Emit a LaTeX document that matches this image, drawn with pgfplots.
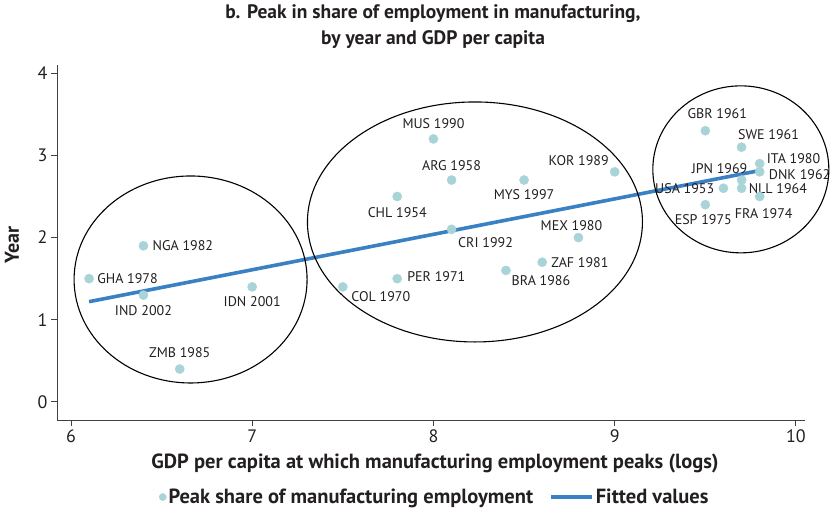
\documentclass[border=0pt]{standalone}
\usepackage{pgfplots}
\pgfplotsset{compat=1.18}
\usepackage{fontspec}
\setmainfont{PT Sans}
\definecolor{dotc}{RGB}{168,212,216}
\definecolor{fitc}{RGB}{58,128,196}
\definecolor{txt}{RGB}{35,31,32}
\newcommand{\lab}{\fontsize{14}{16}\selectfont}
\begin{document}
\begin{tikzpicture}[x=1pt,y=1pt]
\useasboundingbox (-57,-94) rectangle (776,420);
\begin{axis}[
  at={(0,0)}, anchor=south west,
  scale only axis, width=748pt, height=355pt,
  xmin=5.923, xmax=10.05, ymin=-0.22, ymax=4.1,
  axis lines=left, axis line style={-, draw=txt!85, line width=0.9pt},
  xtick={6,7,8,9,10}, ytick={0,1,2,3,4},
  tick align=outside, major tick length=6pt,
  tick style={draw=txt!85, line width=0.9pt},
  /pgf/number format/assume math mode=true,
  tick label style={font=\fontsize{18}{20}\selectfont, text=txt},
  clip=false,
  legend columns=2,
  legend style={draw=none, fill=none, at={(0.505,-0.217)}, anchor=center,
    font=\bfseries\fontsize{20.5}{22}\selectfont, text=txt,
    /tikz/every even column/.append style={column sep=14pt}},
  legend cell align=left,
]
\addplot[only marks, mark=*, mark size=4.6pt, color=dotc,
  legend image code/.code={\fill[dotc] (0.15cm,0cm) circle (3.6pt);}] table {
x y
6.1 1.5
6.4 1.9
6.4 1.3
7.0 1.4
6.6 0.4
8.0 3.2
8.1 2.7
7.8 2.5
8.5 2.7
9.0 2.8
8.1 2.1
8.8 2.0
8.6 1.7
8.4 1.6
7.8 1.5
7.5 1.4
9.5 3.3
9.7 3.1
9.8 2.9
9.8 2.8
9.7 2.7
9.6 2.6
9.7 2.6
9.5 2.4
9.8 2.5
};
\addlegendentry{Peak share of manufacturing employment}
\addplot[fitc, line width=3.6pt,
  legend image code/.code={\draw[fitc, line width=3.6pt] (0cm,0cm) -- (41pt,0cm);}] coordinates {(6.1,1.22) (9.81,2.82)};
\addlegendentry{Fitted values}

\draw[black, line width=1.1pt] (axis cs:6.66,1.49) ellipse [x radius=116.5pt, y radius=103.5pt];
\draw[black, line width=1.1pt] (axis cs:8.229,2.19) ellipse [x radius=167.5pt, y radius=120pt];
\draw[black, line width=1.1pt] (axis cs:9.696,2.83) ellipse [x radius=88pt, y radius=83.5pt];

\begin{scope}[every node/.style={font=\lab, text=txt, inner sep=0pt}]
\node[anchor=west] at ([xshift=8pt]axis cs:6.1,1.5) {GHA 1978};
\node[anchor=west] at ([xshift=9pt]axis cs:6.4,1.9) {NGA 1982};
\node[anchor=center] at ([yshift=-16pt]axis cs:6.4,1.3) {IND 2002};
\node[anchor=center] at ([yshift=-15pt]axis cs:7.0,1.4) {IDN 2001};
\node[anchor=center] at ([yshift=16pt]axis cs:6.6,0.4) {ZMB 1985};
\node[anchor=center] at ([yshift=15pt]axis cs:8.0,3.2) {MUS 1990};
\node[anchor=center] at ([yshift=14pt]axis cs:8.1,2.7) {ARG 1958};
\node[anchor=center] at ([yshift=-16pt]axis cs:7.8,2.5) {CHL 1954};
\node[anchor=center] at ([yshift=-15pt]axis cs:8.5,2.7) {MYS 1997};
\node[anchor=center] at ([xshift=-36pt,yshift=11pt]axis cs:9.0,2.8) {KOR 1989};
\node[anchor=center] at ([xshift=34pt,yshift=-13pt]axis cs:8.1,2.1) {CRI 1992};
\node[anchor=center] at ([xshift=-7pt,yshift=12pt]axis cs:8.8,2.0) {MEX 1980};
\node[anchor=west] at ([xshift=9pt]axis cs:8.6,1.7) {ZAF 1981};
\node[anchor=center] at ([xshift=35pt,yshift=-10pt]axis cs:8.4,1.6) {BRA 1986};
\node[anchor=west] at ([xshift=10pt,yshift=2pt]axis cs:7.8,1.5) {PER 1971};
\node[anchor=center] at ([xshift=38pt,yshift=-10pt]axis cs:7.5,1.4) {COL 1970};
\node[anchor=center] at ([xshift=12pt,yshift=17pt]axis cs:9.5,3.3) {GBR 1961};
\node[anchor=center] at ([xshift=27pt,yshift=13pt]axis cs:9.7,3.1) {SWE 1961};
\node[anchor=west] at ([xshift=7pt,yshift=5pt]axis cs:9.8,2.9) {ITA 1980};
\node[anchor=west] at ([xshift=9pt,yshift=-3pt]axis cs:9.8,2.8) {DNK 1962};
\node[anchor=center] at ([xshift=-22pt,yshift=11pt]axis cs:9.7,2.7) {JPN 1969};
\node[anchor=east] at ([xshift=-9pt]axis cs:9.6,2.6) {USA 1953};
\node[anchor=west] at ([xshift=7pt]axis cs:9.7,2.6) {NLL 1964};
\node[anchor=center] at ([xshift=-2pt,yshift=-15pt]axis cs:9.5,2.4) {ESP 1975};
\node[anchor=center] at ([xshift=4pt,yshift=-17pt]axis cs:9.8,2.5) {FRA 1974};
\end{scope}
\end{axis}
\node[font=\bfseries\fontsize{20}{22}\selectfont, text=txt, rotate=90] at (-45,175) {Year};
\node[font=\bfseries\fontsize{20.5}{22}\selectfont, text=txt] at (378,-43) {GDP per capita at which manufacturing employment peaks (logs)};
\node[font=\bfseries\fontsize{19.5}{22}\selectfont, text=txt] at (376,406) {b. Peak in share of employment in manufacturing,};
\node[font=\bfseries\fontsize{19.5}{22}\selectfont, text=txt] at (376,380) {by year and GDP per capita};
\end{tikzpicture}
\end{document}
